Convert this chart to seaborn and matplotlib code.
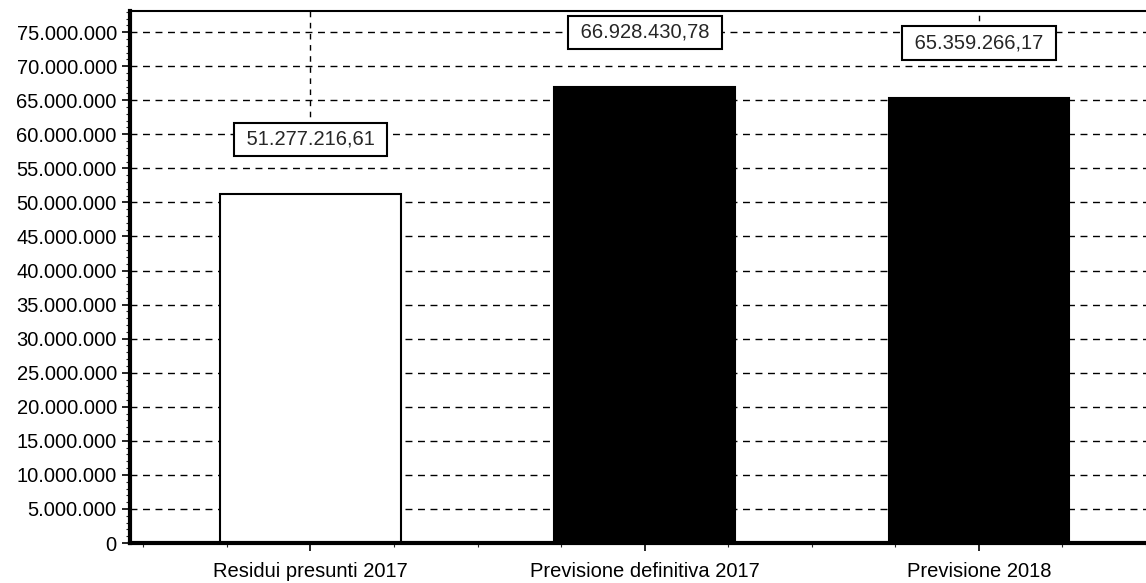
import matplotlib
matplotlib.use("Agg")
import matplotlib.pyplot as plt
import matplotlib.ticker as mticker
import seaborn as sns

## Data
categories = ['Residui presunti 2017', 'Previsione definitiva 2017', 'Previsione 2018']
values = [51277216.61, 66928430.78, 65359266.17]
value_labels = ['51.277.216,61', '66.928.430,78', '65.359.266,17']
label_y = [59300000, 75000000, 73400000]
bar_colors = ['white', 'black', 'black']

sns.set_style("white")
plt.rcParams['font.family'] = ['Liberation Sans', 'DejaVu Sans']

fig = plt.figure(figsize=(11.46, 5.83), dpi=100)
ax = fig.add_axes([0.1134, 0.0686, 0.8866, 0.9125])

# dashed horizontal grid behind the bars
ax.set_axisbelow(True)
ax.yaxis.grid(True, linestyle=(0, (5, 4)), color='black', linewidth=1.0)
ax.xaxis.grid(False)

sns.barplot(x=categories, y=values, hue=categories, palette=bar_colors,
            width=0.54, edgecolor='black', linewidth=1.5, legend=False,
            saturation=1, ax=ax)

ax.set_ylim(0, 78100000)
ax.set_xlim(-0.54, 2.5)

# leader line from label box up to the top
for i, ly in enumerate(label_y):
    ax.plot([i, i], [ly, 78100000], linestyle=(0, (4, 4)), color='black',
            linewidth=1.0, zorder=0.5)

for i, (lab, ly) in enumerate(zip(value_labels, label_y)):
    ax.text(i, ly, ' ' + lab + ' ', ha='center', va='center', fontsize=14.5,
            zorder=5,
            bbox=dict(boxstyle='square,pad=0.35', facecolor='white',
                      edgecolor='black', linewidth=1.5))

ax.yaxis.set_major_locator(mticker.MultipleLocator(5000000))
ax.yaxis.set_minor_locator(mticker.MultipleLocator(1000000))
ax.yaxis.set_major_formatter(
    mticker.FuncFormatter(lambda v, p: f"{v:,.0f}".replace(',', '.')))
ax.xaxis.set_minor_locator(mticker.FixedLocator([-0.5, -0.25, 0.25, 0.5, 0.75, 1.25, 1.5, 1.75, 2.25, 2.5]))

ax.tick_params(axis='both', which='major', labelsize=14.5, length=6, width=1.2,
               direction='out', colors='black', left=True, bottom=True)
ax.tick_params(axis='both', which='minor', length=3, width=0.8,
               direction='out', left=True, bottom=True)
ax.tick_params(axis='x', pad=8)

for side in ['left', 'bottom']:
    ax.spines[side].set_linewidth(3)
    ax.spines[side].set_color('black')
ax.spines['top'].set_linewidth(1.5)
ax.spines['top'].set_color('black')
ax.spines['right'].set_visible(False)

ax.set_xlabel('')
ax.set_ylabel('')

fig.savefig('out.png', dpi=100)
